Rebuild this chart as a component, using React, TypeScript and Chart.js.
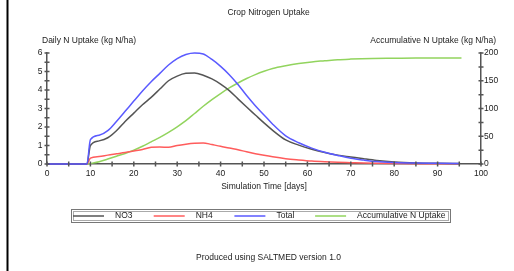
import React, { useEffect, useRef } from "react";
import { Chart, registerables } from "chart.js";

Chart.register(...registerables);

const days = [0, 9.2, 10, 12, 14, 16, 18, 20, 22, 24, 26, 28, 30, 32, 34, 36, 38, 40, 42, 44, 46, 48, 50, 52, 55, 58, 61, 64, 67, 70, 73, 76, 80, 85, 90, 95];
const no3 = [0, 0, 1.0, 1.25, 1.42, 1.8, 2.3, 2.75, 3.2, 3.6, 4.05, 4.5, 4.75, 4.9, 4.92, 4.8, 4.6, 4.32, 3.97, 3.52, 3.08, 2.65, 2.22, 1.82, 1.3, 1.02, 0.8, 0.62, 0.48, 0.38, 0.28, 0.19, 0.11, 0.06, 0.04, 0.03];
const nh4 = [0, 0, 0.32, 0.4, 0.48, 0.55, 0.62, 0.7, 0.78, 0.9, 0.92, 0.9, 1.0, 1.07, 1.12, 1.14, 1.05, 0.96, 0.86, 0.77, 0.66, 0.56, 0.47, 0.39, 0.29, 0.22, 0.16, 0.12, 0.09, 0.07, 0.05, 0.04, 0.03, 0.02, 0.02, 0.01];
const total = [0, 0, 1.32, 1.55, 1.8, 2.3, 2.85, 3.4, 3.95, 4.45, 4.9, 5.35, 5.7, 5.92, 6.0, 5.95, 5.65, 5.28, 4.83, 4.3, 3.7, 3.15, 2.65, 2.15, 1.52, 1.15, 0.86, 0.63, 0.46, 0.31, 0.21, 0.13, 0.08, 0.05, 0.04, 0.03];
const accumDays = [9.2, 10, 12, 14, 16, 18, 20, 22, 24, 26, 28, 30, 32, 34, 36, 38, 40, 42, 44, 46, 48, 50, 52, 55, 58, 61, 64, 67, 70, 75, 80, 85, 90, 95.5];
const accum = [0, 1, 4, 9, 14, 19, 25, 32, 40, 48, 57, 67, 78, 91, 104, 116, 127, 137, 146, 154, 161, 167, 172, 177, 181, 184, 186, 188, 189, 190, 190.5, 191, 191, 191];

const seriesNames = ["NO3", "NH4", "Total", "Accumulative N Uptake"];
const seriesColors = ["#555555", "#ff5c5c", "#5a5aff", "#92d45e"];

const titleText = "Crop Nitrogen Uptake";
const leftTitle = "Daily N Uptake (kg N/ha)";
const rightTitle = "Accumulative N Uptake (kg N/ha)";
const xTitle = "Simulation Time [days]";
const footer = "Produced using SALTMED version 1.0";

const FAMILY = "'Liberation Sans', Arial, sans-serif";
const FONT = "8.5px " + FAMILY;
const TEXT = "#222";

const pts = (xs: number[], ys: number[]) => xs.map((x, i) => ({ x, y: ys[i] }));

const decor = {
  id: "decor",
  afterDraw(chart: any) {
    const ctx = chart.ctx;
    const ca = chart.chartArea;
    const sx = chart.scales.x, sy = chart.scales.y, sy1 = chart.scales.y1;
    ctx.save();
    ctx.strokeStyle = "#555";
    ctx.lineWidth = 1.5;
    ctx.beginPath();
    sx.ticks.forEach((t: any) => {
      const p = sx.getPixelForValue(t.value);
      ctx.moveTo(p, ca.bottom - 2.5);
      ctx.lineTo(p, ca.bottom + 2.5);
    });
    sy.ticks.forEach((t: any) => {
      const p = sy.getPixelForValue(t.value);
      ctx.moveTo(ca.left - 2.5, p);
      ctx.lineTo(ca.left + 2.5, p);
    });
    sy1.ticks.forEach((t: any) => {
      const p = sy1.getPixelForValue(t.value);
      ctx.moveTo(ca.right - 2.5, p);
      ctx.lineTo(ca.right + 2.5, p);
    });
    ctx.stroke();

    ctx.font = FONT;
    ctx.fillStyle = TEXT;
    ctx.textBaseline = "middle";
    ctx.textAlign = "center";
    ctx.fillText(titleText, 268.5, 13);
    ctx.fillText(xTitle, (ca.left + ca.right) / 2, 187);
    ctx.fillText(footer, 268.5, 258);
    ctx.textAlign = "left";
    ctx.fillText(leftTitle, 42, 41);
    ctx.textAlign = "right";
    ctx.fillText(rightTitle, 496, 41);

    const lx = 71.5, ly = 209.5, lw = 379, lh = 13;
    ctx.lineWidth = 1;
    ctx.strokeStyle = "#777";
    ctx.strokeRect(lx, ly, lw, lh);
    ctx.strokeStyle = "#aaa";
    ctx.strokeRect(lx + 2, ly + 2, lw - 4, lh - 4);
    const cy = 216;
    chart.data.datasets.slice().sort((a: any, b: any) => a.legendIndex - b.legendIndex).forEach((ds: any, i: number) => {
      const x0 = 73 + i * 80.7;
      ctx.strokeStyle = ds.borderColor;
      ctx.lineWidth = 1.5;
      ctx.beginPath();
      ctx.moveTo(x0, cy);
      ctx.lineTo(x0 + 31, cy);
      ctx.stroke();
      ctx.fillStyle = TEXT;
      ctx.textAlign = "left";
      ctx.fillText(ds.label, x0 + 42, cy);
    });

    ctx.fillStyle = "#000";
    ctx.fillRect(6.5, 0, 2, chart.height);
    ctx.restore();
  },
};

export default function App() {
  const ref = useRef<HTMLCanvasElement>(null);
  useEffect(() => {
    if (!ref.current) return;
    const mk = (i: number, data: any[], axis: string, order: number) => ({
      label: seriesNames[i],
      legendIndex: i,
      data,
      yAxisID: axis,
      borderColor: seriesColors[i],
      backgroundColor: seriesColors[i],
      borderWidth: 1.5,
      pointRadius: 0,
      cubicInterpolationMode: "monotone" as const,
      clip: 4,
      order,
    });
    const tickFont = { family: FAMILY, size: 8.5 };
    const chart = new Chart(ref.current, {
      type: "line",
      data: {
        datasets: [
          mk(0, pts(days, no3), "y", 1),
          mk(1, pts(days, nh4), "y", 2),
          mk(2, pts(days, total), "y", 0),
          mk(3, pts(accumDays, accum), "y1", 3),
        ] as any,
      },
      options: {
        animation: false,
        responsive: false,
        maintainAspectRatio: false,
        parsing: false as any,
        layout: { padding: { top: 53, left: 0, right: 0, bottom: 0 } },
        plugins: { legend: { display: false }, title: { display: false }, tooltip: { enabled: false } },
        scales: {
          x: {
            type: "linear",
            min: 0,
            max: 100,
            grid: { display: false, drawTicks: false },
            border: { display: true, color: "#555", width: 1.5 },
            ticks: {
              stepSize: 5,
              autoSkip: false,
              maxRotation: 0,
              padding: 5,
              color: TEXT,
              font: tickFont,
              callback: (v: any) => (Number(v) % 10 === 0 ? String(v) : ""),
            },
            afterFit: (s: any) => { s.height = 107; },
          },
          y: {
            type: "linear",
            position: "left",
            min: 0,
            max: 6,
            grid: { display: false, drawTicks: false },
            border: { display: true, color: "#555", width: 1.5 },
            ticks: {
              stepSize: 0.5,
              autoSkip: false,
              padding: 4.5,
              color: TEXT,
              font: tickFont,
              callback: (v: any) => (Number(v) % 1 === 0 ? String(v) : ""),
            },
            afterFit: (s: any) => { s.width = 47; },
          },
          y1: {
            type: "linear",
            position: "right",
            min: 0,
            max: 200,
            grid: { display: false, drawTicks: false },
            border: { display: true, color: "#555", width: 1.5 },
            ticks: {
              stepSize: 25,
              autoSkip: false,
              padding: 3,
              color: TEXT,
              font: tickFont,
              callback: (v: any) => (Number(v) % 50 === 0 ? String(v) : ""),
            },
            afterFit: (s: any) => { s.width = 33; },
          },
        },
      } as any,
      plugins: [decor],
    });
    return () => chart.destroy();
  }, []);
  return (
    <div style={{ position: "fixed", left: 0, top: 0, width: 514, height: 271, background: "#fff" }}>
      <canvas ref={ref} width={514} height={271} style={{ display: "block", width: 514, height: 271 }} />
    </div>
  );
}
